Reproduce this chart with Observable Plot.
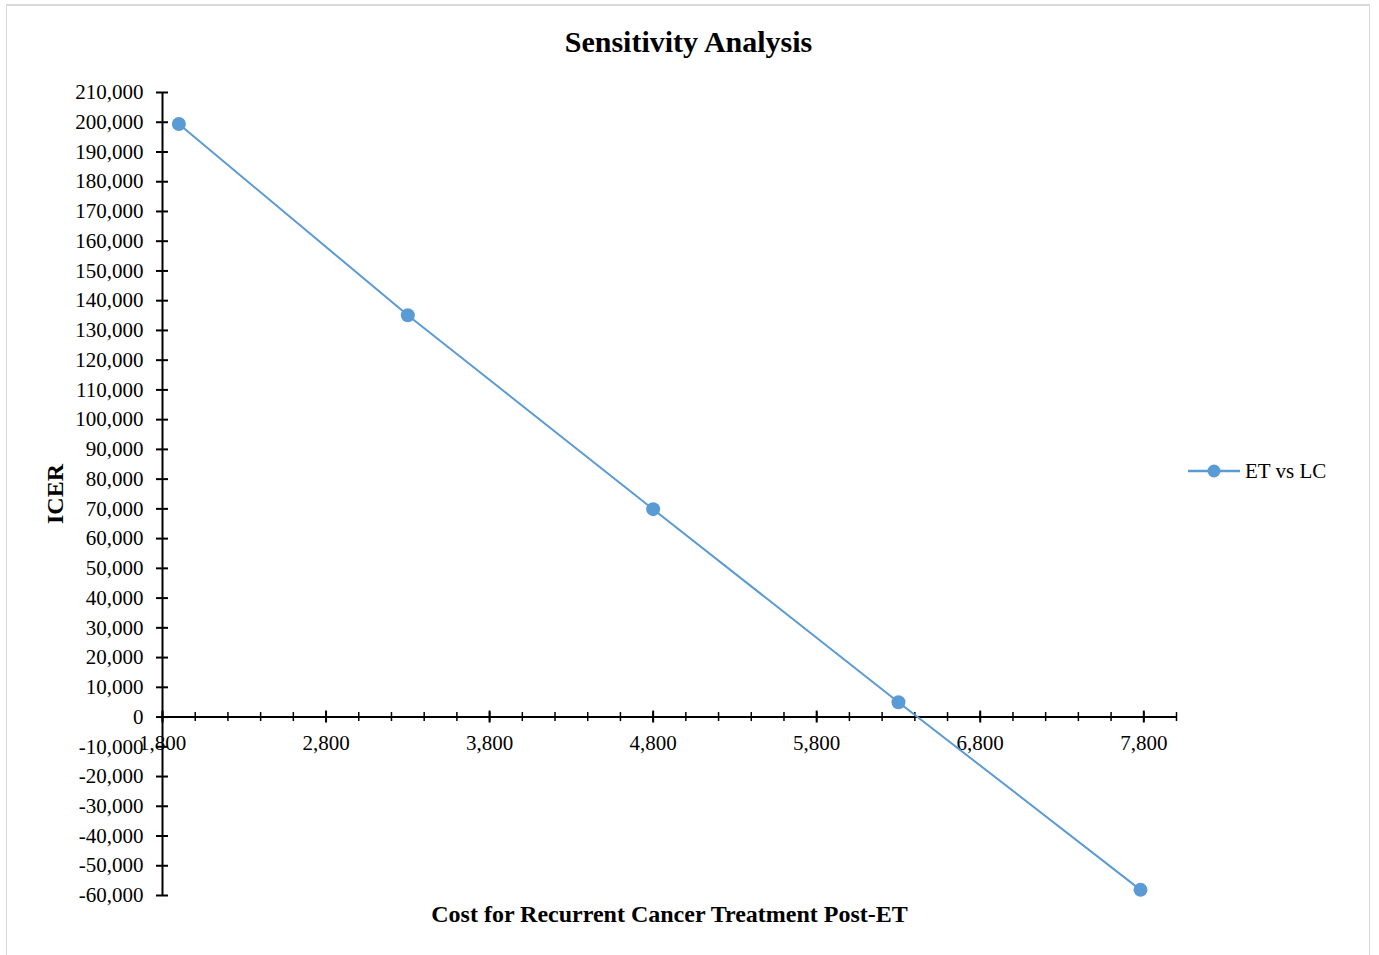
<!DOCTYPE html>
<html>
<head>
<meta charset="utf-8">
<script src="https://cdn.jsdelivr.net/npm/d3@7"></script>
<script src="https://cdn.jsdelivr.net/npm/@observablehq/plot@0.6"></script>
<style>
  html, body { margin: 0; padding: 0; background: #fff; }
  #wrap { position: relative; width: 1379px; height: 955px; overflow: hidden; font-family: 'Liberation Serif', 'Times New Roman', serif; }
  #frame { position: absolute; left: 6px; top: 4px; width: 1364px; height: 960px; border: 1px solid #d9d9d9; border-top: 2px solid #d9d9d9; box-sizing: border-box; }
  #chart { position: absolute; left: 0; top: 0; }
  #legend { position: absolute; left: 1188px; top: 458px; height: 26px; display: flex; align-items: center; font-size: 21px; color: #000; }
  #legend svg { display: block; margin-right: 5px; }
</style>
</head>
<body>
<div id="wrap"><div id="frame"></div><div id="chart"></div><div id="legend"></div></div>
<script>
// ---- data ----
const costs = [1900, 3300, 4800, 6300, 7780];
const icer = [199400, 135100, 69900, 5000, -58100];
const seriesName = "ET vs LC";
const xMajorTicks = [1800, 2800, 3800, 4800, 5800, 6800, 7800];
const xMinorTicks = d3.range(1800, 8001, 200);
const yTicks = d3.range(-60000, 210001, 10000);
const titleText = "Sensitivity Analysis";
const xLabel = "Cost for Recurrent Cancer Treatment Post-ET";
const yLabel = "ICER";

const data = costs.map((c, i) => ({cost: c, icer: icer[i]}));
const fmt = d3.formatLocale({decimal: ".", thousands: ",", grouping: [3], currency: ["$", ""], minus: "-"}).format(",");
const blue = "#5B9BD5";

const chart = Plot.plot({
  width: 1379,
  height: 955,
  marginLeft: 162,
  marginRight: 203,
  marginTop: 92,
  marginBottom: 60,
  style: {fontFamily: "'Liberation Serif', 'Times New Roman', serif", fontSize: "21px", background: "transparent", overflow: "visible"},
  x: {domain: [1800, 8000], axis: null},
  y: {domain: [-60000, 210000], axis: null},
  marks: [
    Plot.ruleY([0], {stroke: "#000", strokeWidth: 2}),
    Plot.ruleX([1800], {stroke: "#000", strokeWidth: 2}),
    Plot.ruleX(xMinorTicks, {x: d => d, y1: 0, y2: 0, insetTop: -4.5, insetBottom: -4.5, stroke: "#000", strokeWidth: 1.5}),
    Plot.ruleX(xMajorTicks, {x: d => d, y1: 0, y2: 0, insetTop: -6, insetBottom: -6, stroke: "#000", strokeWidth: 2}),
    Plot.text(xMajorTicks, {x: d => d, y: 0, dy: 26, text: d => fmt(d), fill: "#000", fontSize: 21}),
    Plot.ruleY(yTicks, {y: d => d, x1: 1800, x2: 1800, insetLeft: -6, insetRight: -6, stroke: "#000", strokeWidth: 2}),
    Plot.text(yTicks, {x: 1800, y: d => d, dx: -19, textAnchor: "end", text: d => fmt(d), fill: "#000", fontSize: 21}),
    Plot.line(data, {x: "cost", y: "icer", stroke: blue, strokeWidth: 2}),
    Plot.dot(data, {x: "cost", y: "icer", r: 7, fill: blue, stroke: "none"}),
    Plot.text([titleText], {frameAnchor: "top", textAnchor: "middle", lineAnchor: "middle", dx: 19, dy: -50, text: d => d, fontSize: 30, fontWeight: "bold", fill: "#000"}),
    Plot.text([xLabel], {frameAnchor: "bottom", textAnchor: "middle", lineAnchor: "middle", dx: 0, dy: 19, text: d => d, fontSize: 24, fontWeight: "bold", fill: "#000"}),
    Plot.text([yLabel], {frameAnchor: "left", textAnchor: "middle", lineAnchor: "middle", dx: -107, dy: 0, rotate: -90, text: d => d, fontSize: 24, fontWeight: "bold", fill: "#000"})
  ]
});
document.getElementById("chart").appendChild(chart);

// legend
const legend = d3.select("#legend");
const sw = legend.append("svg").attr("width", 52).attr("height", 16);
sw.append("line").attr("x1", 0).attr("x2", 52).attr("y1", 8).attr("y2", 8).attr("stroke", blue).attr("stroke-width", 2.5);
sw.append("circle").attr("cx", 26).attr("cy", 8).attr("r", 6.5).attr("fill", blue);
legend.append("span").text(seriesName);
</script>
</body>
</html>
